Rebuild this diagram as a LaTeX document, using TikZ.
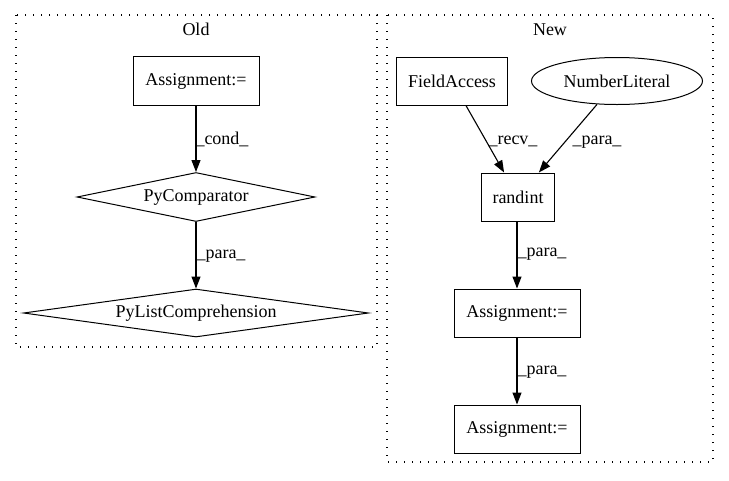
\documentclass[tikz,border=0pt]{standalone}
\usepackage{fontspec}
\setmainfont{Liberation Serif}
\usetikzlibrary{shapes.geometric,arrows.meta}
\begin{document}
\begin{tikzpicture}[x=1pt,y=-1pt,
  font=\fontsize{18}{20}\selectfont,
  cluster/.style={draw, line width=1.2pt, dash pattern=on 1.4pt off 6.6pt},
  box/.style={draw, line width=1pt, rectangle, inner sep=0pt},
  dia/.style={draw, line width=1pt, diamond, inner sep=0pt},
  ell/.style={draw, line width=1pt, ellipse, inner sep=0pt},
  edge/.style={draw, line width=1.1pt, -{Triangle[length=12pt,width=9pt]}},
  lbl/.style={inner sep=0pt, text height=11pt, text depth=4pt}
]
\useasboundingbox (0,0) rectangle (729,480);
% clusters
\draw[cluster] (16,15) rectangle (377,347);
\draw[cluster] (387,15) rectangle (713,462);
\node[lbl] (oldt) at (196,32) {Old};
\node[lbl] (newt) at (550,32) {New};
% Old
\node[box, minimum width=126pt, minimum height=49pt] (oa) at (196,81) {Assignment:=};
\node[dia, aspect=5, minimum width=238pt, minimum height=49pt] (pc) at (196,197) {PyComparator};
\node[dia, aspect=7, minimum width=345pt, minimum height=48pt] (pl) at (196,313) {PyListComprehension};
\draw[edge] (oa) -- (pc);
\draw[edge] (pc) -- (pl);
\node[lbl] (l1) at (222,141) {\_cond\_};
\node[lbl] (l2) at (221,255) {\_para\_};
% New
\node[box, minimum width=111pt, minimum height=48pt] (fa) at (452,81) {FieldAccess};
\node[ell, minimum width=171pt, minimum height=47pt] (nl) at (617,81) {NumberLiteral};
\node[box, minimum width=73pt, minimum height=48pt] (ri) at (518,197) {randint};
\node[box, minimum width=126pt, minimum height=48pt] (na1) at (517,313) {Assignment:=};
\node[box, minimum width=126pt, minimum height=48pt] (na2) at (517,429) {Assignment:=};
\draw[edge] (fa) -- (ri);
\draw[edge] (nl) -- (ri);
\draw[edge] (ri.south -| na1) -- (na1);
\draw[edge] (na1) -- (na2);
\node[lbl] (l3) at (513,141) {\_recv\_};
\node[lbl] (l4) at (597,141) {\_para\_};
\node[lbl] (l5) at (542,253) {\_para\_};
\node[lbl] (l6) at (542,371) {\_para\_};
\end{tikzpicture}
\end{document}
